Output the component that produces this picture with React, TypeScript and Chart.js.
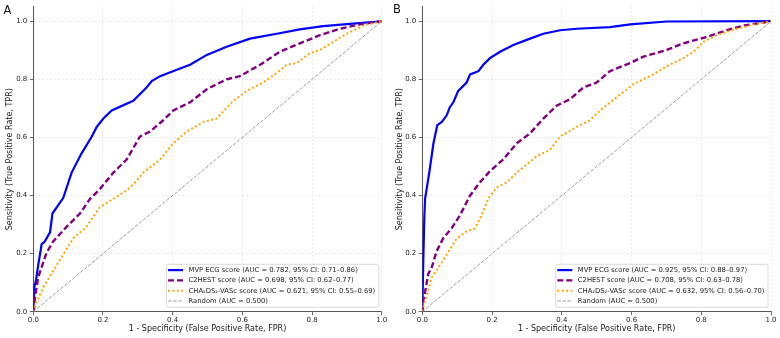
import React, { useEffect, useRef } from "react";
import { Chart, registerables } from "chart.js";

Chart.register(...registerables);

// ---------------- data ----------------
const TICKS = [0, 0.2, 0.4, 0.6, 0.8, 1.0];
const X_TITLE = "1 - Specificity (False Positive Rate, FPR)";
const Y_TITLE = "Sensitivity (True Positive Rate, TPR)";

const A_MVP_FPR = [0, 0.003, 0.008, 0.014, 0.024, 0.032, 0.048, 0.055, 0.086, 0.11, 0.139, 0.168, 0.182, 0.201, 0.225, 0.287, 0.325, 0.34, 0.364, 0.412, 0.45, 0.498, 0.555, 0.622, 0.699, 0.765, 0.832, 0.909, 1.0];
const A_MVP_TPR = [0, 0.085, 0.11, 0.16, 0.233, 0.24, 0.273, 0.338, 0.392, 0.479, 0.546, 0.603, 0.636, 0.665, 0.693, 0.726, 0.772, 0.794, 0.811, 0.833, 0.85, 0.884, 0.912, 0.94, 0.957, 0.972, 0.983, 0.991, 1.0];
const A_C2_FPR = [0, 0.005, 0.014, 0.038, 0.057, 0.096, 0.134, 0.163, 0.191, 0.23, 0.268, 0.306, 0.335, 0.373, 0.402, 0.45, 0.498, 0.555, 0.593, 0.651, 0.708, 0.765, 0.823, 0.88, 0.937, 1.0];
const A_C2_TPR = [0, 0.051, 0.118, 0.203, 0.242, 0.293, 0.338, 0.389, 0.422, 0.479, 0.524, 0.603, 0.62, 0.659, 0.693, 0.721, 0.766, 0.8, 0.811, 0.85, 0.895, 0.924, 0.952, 0.974, 0.989, 1.0];
const A_CHA_FPR = [0, 0.01, 0.029, 0.057, 0.086, 0.115, 0.153, 0.191, 0.23, 0.268, 0.297, 0.316, 0.364, 0.402, 0.44, 0.488, 0.526, 0.574, 0.613, 0.66, 0.699, 0.727, 0.756, 0.794, 0.823, 0.861, 0.9, 0.947, 1.0];
const A_CHA_TPR = [0, 0.034, 0.084, 0.141, 0.197, 0.253, 0.293, 0.36, 0.389, 0.417, 0.451, 0.479, 0.524, 0.58, 0.62, 0.653, 0.665, 0.726, 0.76, 0.789, 0.822, 0.85, 0.856, 0.89, 0.901, 0.929, 0.957, 0.985, 1.0];

const B_MVP_FPR = [0, 0.003, 0.006, 0.008, 0.014, 0.02, 0.032, 0.043, 0.056, 0.07, 0.079, 0.089, 0.103, 0.127, 0.137, 0.161, 0.175, 0.194, 0.223, 0.261, 0.309, 0.347, 0.395, 0.443, 0.538, 0.596, 0.701, 1.0];
const B_MVP_TPR = [0, 0.186, 0.332, 0.389, 0.434, 0.479, 0.58, 0.642, 0.653, 0.676, 0.704, 0.721, 0.76, 0.789, 0.817, 0.828, 0.85, 0.873, 0.895, 0.918, 0.94, 0.957, 0.969, 0.974, 0.98, 0.989, 0.999, 1.0];
const B_C2_FPR = [0, 0.003, 0.008, 0.017, 0.027, 0.041, 0.06, 0.084, 0.108, 0.137, 0.165, 0.194, 0.232, 0.271, 0.309, 0.347, 0.385, 0.424, 0.462, 0.5, 0.538, 0.596, 0.634, 0.701, 0.749, 0.816, 0.873, 0.921, 1.0];
const B_C2_TPR = [0, 0.04, 0.068, 0.13, 0.152, 0.208, 0.253, 0.287, 0.332, 0.4, 0.445, 0.484, 0.524, 0.58, 0.614, 0.665, 0.709, 0.732, 0.772, 0.789, 0.828, 0.856, 0.878, 0.901, 0.924, 0.946, 0.969, 0.985, 1.0];
const B_CHA_FPR = [0, 0.003, 0.013, 0.027, 0.046, 0.07, 0.099, 0.127, 0.151, 0.17, 0.189, 0.213, 0.242, 0.271, 0.299, 0.328, 0.366, 0.395, 0.443, 0.481, 0.51, 0.557, 0.605, 0.653, 0.701, 0.749, 0.778, 0.806, 0.844, 0.902, 0.959, 1.0];
const B_CHA_TPR = [0, 0.017, 0.056, 0.118, 0.152, 0.197, 0.253, 0.276, 0.287, 0.332, 0.389, 0.428, 0.445, 0.479, 0.507, 0.535, 0.557, 0.603, 0.636, 0.659, 0.693, 0.738, 0.783, 0.811, 0.845, 0.873, 0.895, 0.929, 0.952, 0.974, 0.991, 1.0];

const RANDOM_FPR = [0, 1];
const RANDOM_TPR = [0, 1];

const A_LABELS = [
  "MVP ECG score (AUC = 0.782, 95% CI: 0.71\u20130.86)",
  "C2HEST score (AUC = 0.698, 95% CI: 0.62\u20130.77)",
  "CHA\u2082DS\u2082-VASc score (AUC = 0.621, 95% CI: 0.55\u20130.69)",
  "Random (AUC = 0.500)",
];
const B_LABELS = [
  "MVP ECG score (AUC = 0.925, 95% CI: 0.88\u20130.97)",
  "C2HEST score (AUC = 0.708, 95% CI: 0.63\u20130.78)",
  "CHA\u2082DS\u2082-VASc score (AUC = 0.632, 95% CI: 0.56\u20130.70)",
  "Random (AUC = 0.500)",
];

// ---------------- styles ----------------
const FONT = "'DejaVu Sans', sans-serif";
const STYLES = [
  { color: "#0000ff", width: 2.2, dash: [] as number[] },
  { color: "#800080", width: 2.4, dash: [6, 3] },
  { color: "#ffa500", width: 2, dash: [2, 2.4] },
  { color: "rgba(110,110,110,0.85)", width: 0.8, dash: [3.5, 1.6] },
];

const zip = (xs: number[], ys: number[]) => xs.map((x, i) => ({ x, y: ys[i] }));

const legendPlugin = {
  id: "customLegend",
  afterDatasetsDraw(chart: any, _args: any, opts: any) {
    const { ctx, chartArea } = chart;
    const labels: string[] = opts.labels;
    ctx.save();
    ctx.font = `6.8px ${FONT}`;
    let maxW = 0;
    labels.forEach((l) => (maxW = Math.max(maxW, ctx.measureText(l).width)));
    const w = maxW + 25.5;
    const h = 43;
    const right = chartArea.right - 3;
    const bottom = chartArea.bottom - 4.4;
    const left = right - w;
    const top = bottom - h;
    ctx.beginPath();
    if (ctx.roundRect) ctx.roundRect(left, top, w, h, 2);
    else ctx.rect(left, top, w, h);
    ctx.fillStyle = "rgba(255,255,255,0.85)";
    ctx.fill();
    ctx.strokeStyle = "#d0d0d0";
    ctx.lineWidth = 0.8;
    ctx.stroke();
    labels.forEach((l, i) => {
      const y = top + 5.8 + i * 10.3;
      const s = STYLES[i];
      ctx.beginPath();
      ctx.setLineDash(s.dash);
      ctx.strokeStyle = s.color;
      ctx.lineWidth = s.width;
      ctx.moveTo(left + 1.5, y);
      ctx.lineTo(left + 16.5, y);
      ctx.stroke();
      ctx.setLineDash([]);
      ctx.fillStyle = "#1a1a1a";
      ctx.textBaseline = "middle";
      ctx.textAlign = "left";
      ctx.fillText(l, left + 22, y + 0.3);
    });
    ctx.restore();
  },
};

function Panel(props: {
  left: number;
  yAxisW: number;
  padRight: number;
  mvp: [number[], number[]];
  c2: [number[], number[]];
  cha: [number[], number[]];
  labels: string[];
  letter: string;
}) {
  const ref = useRef<HTMLCanvasElement>(null);
  useEffect(() => {
    const series = [props.mvp, props.c2, props.cha, [RANDOM_FPR, RANDOM_TPR] as [number[], number[]]];
    const chart = new Chart(ref.current!, {
      type: "line",
      data: {
        datasets: series.map((s, i) => ({
          label: props.labels[i],
          data: zip(s[0], s[1]),
          borderColor: STYLES[i].color,
          borderWidth: STYLES[i].width,
          borderDash: STYLES[i].dash,
          pointRadius: 0,
          tension: 0,
          fill: false,
          order: 4 - i,
        })),
      },
      options: {
        animation: false,
        responsive: false,
        maintainAspectRatio: false,
        devicePixelRatio: 1,
        layout: { padding: { top: 1, right: props.padRight, bottom: 0, left: 0 } },
        plugins: {
          legend: { display: false },
          tooltip: { enabled: false },
          customLegend: { labels: props.labels },
        } as any,
        scales: {
          x: {
            type: "linear",
            min: 0,
            max: 1,
            afterBuildTicks: (axis: any) => {
              axis.ticks = TICKS.map((v) => ({ value: v }));
            },
            afterFit: (axis: any) => {
              axis.height = 26.3;
            },
            ticks: {
              font: { family: FONT, size: 7 },
              color: "#222",
              padding: 1,
              maxRotation: 0,
              callback: (v: any) => Number(v).toFixed(1),
            },
            grid: {
              color: (c: any) => (c.tick && c.tick.value === 0 ? "rgba(0,0,0,0)" : "rgba(0,0,0,0.14)"),
              lineWidth: 0.6,
              tickColor: "#444",
              tickLength: 3.5,
              tickWidth: 0.8,
            },
            border: { display: true, color: "#444", width: 0.9, dash: [2, 2] },
            title: {
              display: true,
              text: X_TITLE,
              font: { family: FONT, size: 8 },
              color: "#1a1a1a",
              padding: { top: 0, bottom: 4.2 },
            },
          },
          y: {
            type: "linear",
            min: 0,
            max: 1.05,
            afterBuildTicks: (axis: any) => {
              axis.ticks = TICKS.map((v) => ({ value: v }));
            },
            afterFit: (axis: any) => {
              axis.width = props.yAxisW;
            },
            ticks: {
              font: { family: FONT, size: 7 },
              color: "#222",
              padding: 2.5,
              callback: (v: any) => Number(v).toFixed(1),
            },
            grid: {
              color: (c: any) => (c.tick && c.tick.value === 0 ? "rgba(0,0,0,0)" : "rgba(0,0,0,0.14)"),
              lineWidth: 0.6,
              tickColor: "#444",
              tickLength: 3.5,
              tickWidth: 0.8,
            },
            border: { display: true, color: "#444", width: 0.9, dash: [2, 2] },
            title: {
              display: true,
              text: Y_TITLE,
              font: { family: FONT, size: 8 },
              color: "#1a1a1a",
              padding: { top: 5.2, bottom: 0 },
            },
          },
        },
      },
      plugins: [legendPlugin],
    });
    return () => chart.destroy();
  }, []);
  return (
    <div style={{ position: "absolute", left: props.left, top: 0, width: 390, height: 338 }}>
      <canvas ref={ref} width={390} height={338} style={{ width: 390, height: 338, display: "block" }} />
      <div
        style={{
          position: "absolute",
          left: props.letter === "A" ? 3.5 : 3,
          top: props.letter === "A" ? 4 : 3,
          fontFamily: FONT,
          fontSize: 11.5,
          lineHeight: "13px",
          color: "#111",
        }}
      >
        {props.letter}
      </div>
    </div>
  );
}

export default function App() {
  return (
    <div style={{ position: "fixed", left: 0, top: 0, width: 780, height: 338, background: "#fff", overflow: "hidden" }}>
      <Panel
        left={0}
        yAxisW={33.3}
        padRight={8.3}
        mvp={[A_MVP_FPR, A_MVP_TPR]}
        c2={[A_C2_FPR, A_C2_TPR]}
        cha={[A_CHA_FPR, A_CHA_TPR]}
        labels={A_LABELS}
        letter="A"
      />
      <Panel
        left={390}
        yAxisW={32.3}
        padRight={9}
        mvp={[B_MVP_FPR, B_MVP_TPR]}
        c2={[B_C2_FPR, B_C2_TPR]}
        cha={[B_CHA_FPR, B_CHA_TPR]}
        labels={B_LABELS}
        letter="B"
      />
    </div>
  );
}
